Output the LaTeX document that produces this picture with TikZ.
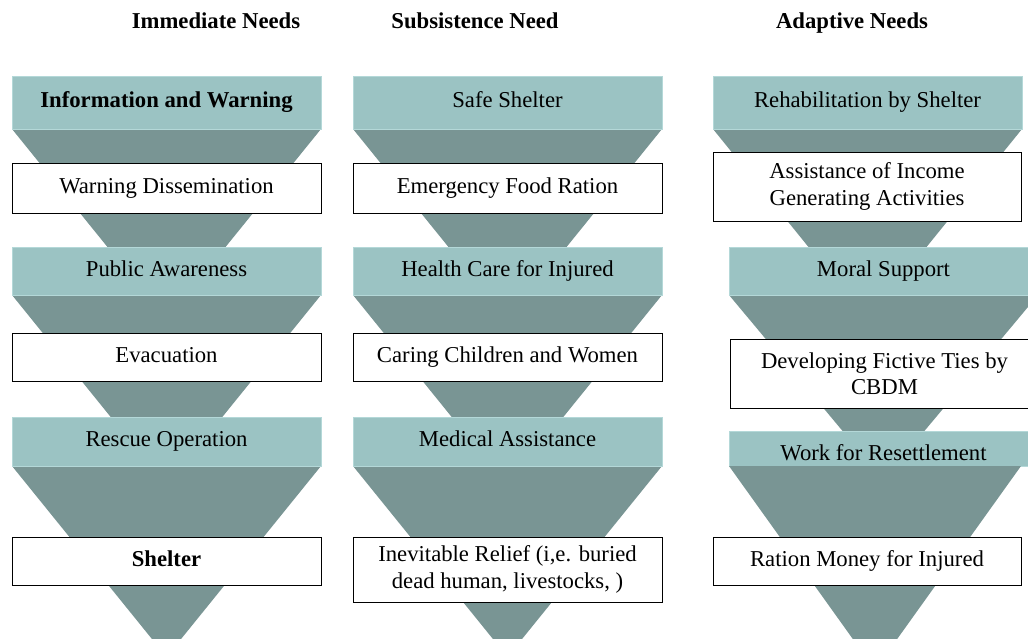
\documentclass[tikz,border=0pt]{standalone}
\usepackage{fontspec}
\setmainfont{Liberation Serif}
\definecolor{barcol}{RGB}{155,195,195}
\definecolor{baredge}{RGB}{180,216,216}
\definecolor{tricol}{RGB}{121,149,148}
\begin{document}
\begin{tikzpicture}[x=1pt,y=-1pt,
  every node/.style={font=\fontsize{22.7}{26.5}\selectfont, inner sep=0pt, align=center},
  txt/.style={text height=15pt, text depth=5pt},
  barbox/.style={fill=barcol, draw=baredge, line width=1pt, minimum width=309pt, txt},
  wbox/.style={fill=white, draw=black, line width=1pt, minimum width=309pt},
  hdr/.style={font=\fontsize{22.7}{26.5}\selectfont\bfseries, txt},
  tri/.style={fill=tricol}]
\useasboundingbox (0,0) rectangle (1028,638);
\clip (0,0) rectangle (1028,638);

% headers
\node[hdr] (h1) at (216,23) {Immediate Needs};
\node[hdr] (h2) at (475,23) {Subsistence Need};
\node[hdr] (h3) at (852,23) {Adaptive Needs};

% ---------- column 1 ----------
\fill[tri] (12,129) -- (321,129) -- (166.5,320) -- cycle;
\node[barbox, minimum height=53pt] (b11) at (166.5,102.5) {\bfseries Information and Warning};
\node[wbox, txt, minimum height=50pt] (w11) at (166.5,188) {Warning Dissemination};
\fill[tri] (12,295) -- (321,295) -- (166.5,486) -- cycle;
\node[barbox, minimum height=48pt] (b12) at (166.5,271) {Public Awareness};
\node[wbox, txt, minimum height=48pt] (w12) at (166.5,357) {Evacuation};
\fill[tri] (12,466) -- (321,466) -- (166.5,657) -- cycle;
\node[barbox, minimum height=49pt] (b13) at (166.5,441.5) {Rescue Operation};
\node[wbox, txt, minimum height=48pt] (w13) at (166.5,561) {\bfseries Shelter};

% ---------- column 2 ----------
\fill[tri] (353,129) -- (662,129) -- (507.5,320) -- cycle;
\node[barbox, minimum height=53pt] (b21) at (507.5,102.5) {Safe Shelter};
\node[wbox, txt, minimum height=50pt] (w21) at (507.5,188) {Emergency Food Ration};
\fill[tri] (353,295) -- (662,295) -- (507.5,486) -- cycle;
\node[barbox, minimum height=48pt] (b22) at (507.5,271) {Health Care for Injured};
\node[wbox, txt, minimum height=48pt] (w22) at (507.5,357) {Caring Children and Women};
\fill[tri] (353,466) -- (662,466) -- (507.5,657) -- cycle;
\node[barbox, minimum height=49pt] (b23) at (507.5,441.5) {Medical Assistance};
\node[wbox, minimum height=65pt] (w23) at (507.5,569.5) {Inevitable Relief (i,e. buried\\dead human, livestocks, )};

% ---------- column 3 ----------
\fill[tri] (713,129) -- (1022,129) -- (867.5,320) -- cycle;
\node[barbox, minimum height=53pt] (b31) at (867.5,102.5) {Rehabilitation by Shelter};
\node[wbox, minimum height=69pt, minimum width=308pt] (w31) at (867,186.5) {Assistance of Income\\Generating Activities};
\fill[tri] (729,295) -- (1038,295) -- (883.5,480) -- cycle;
\node[barbox, minimum height=48pt] (b32) at (883.5,271) {Moral Support};
\node[wbox, minimum height=69pt] (w32) at (884.5,373.5) {Developing Fictive Ties by\\CBDM};
\node[barbox, minimum height=35pt] (b33) at (883.5,448.5) {};
\begin{scope}
  \clip (729,431) rectangle (1038,460);
  \node[txt] (t33) at (883.5,455.5) {Work for Resettlement};
\end{scope}
\fill[tri] (729,466) -- (1021,466) -- (875,670) -- cycle;
\node[wbox, txt, minimum height=48pt, minimum width=308pt] (w33) at (867,561) {Ration Money for Injured};
\end{tikzpicture}
\end{document}
